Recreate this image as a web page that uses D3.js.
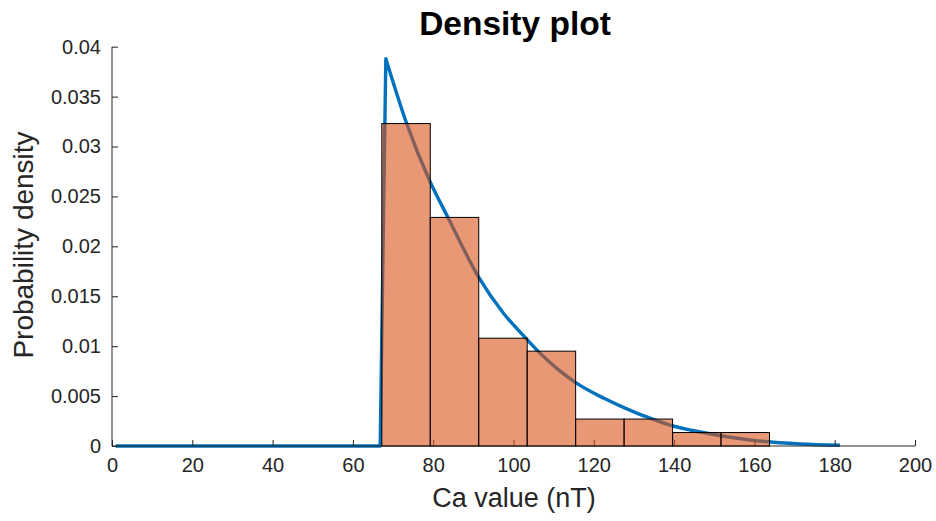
<!DOCTYPE html>
<html><head><meta charset="utf-8">
<script src="https://cdn.jsdelivr.net/npm/d3@7"></script>
<style>body{margin:0;background:#fff}svg{display:block}text{font-family:"Liberation Sans",Arial,Helvetica,sans-serif;fill:#262626}</style>
</head><body><div id="chart"></div>
<script>
// Histogram bins (Ca value, nT)
const binStart = 67.2;
const binWidth = 12.07;
const binDensity = [0.0323, 0.0229, 0.0108, 0.0095, 0.0027, 0.0027, 0.00135, 0.00135];
// Fitted density curve
const curveX = [0.9, 66.8, 68.2, 73.4, 79.2, 83.8, 91.2, 97.5, 103.3, 106.6, 111.0, 115.3, 122.4, 130.7, 134.0, 139.0, 146.5, 158.9, 171.4, 181.3];
const curveY = [0, 0, 0.0388, 0.0323, 0.0265, 0.0228, 0.0170, 0.0133, 0.0107, 0.0093, 0.0077, 0.0064, 0.0048, 0.0033, 0.0028, 0.0021, 0.0014, 0.0006, 0.0002, 0.00007];
const xTicks = [0, 20, 40, 60, 80, 100, 120, 140, 160, 180, 200];
const yTicks = [0, 0.005, 0.01, 0.015, 0.02, 0.025, 0.03, 0.035, 0.04];
const yTickLabels = ["0", "0.005", "0.01", "0.015", "0.02", "0.025", "0.03", "0.035", "0.04"];

const W = 936, H = 521;
const svg = d3.select("#chart").append("svg").attr("width", W).attr("height", H);
const x = d3.scaleLinear().domain([0, 200]).range([112, 915]);
const y = d3.scaleLinear().domain([0, 0.04]).range([446, 46.7]);
const axisColor = "#262626";

// curve (behind bars): sharp rise drawn linear, decay drawn smooth
const pts = curveX.map((d, i) => [d, curveY[i]]);
const peak = 2;
const lineLin = d3.line().x(d => x(d[0])).y(d => y(d[1]));
const lineSmooth = d3.line().x(d => x(d[0])).y(d => y(d[1])).curve(d3.curveMonotoneX);
const dPath = lineLin(pts.slice(0, peak + 1)) + lineSmooth(pts.slice(peak)).replace(/^M[^A-Za-z]*/, "");
svg.append("path")
  .attr("fill", "none").attr("stroke", "#0072BD").attr("stroke-width", 3.4)
  .attr("stroke-linejoin", "round")
  .attr("d", dPath);

// axes
const xAxis = d3.axisBottom(x).tickValues(xTicks).tickSize(-6).tickPadding(12).tickFormat(d3.format("d"));
const gx = svg.append("g").attr("transform", `translate(0,${y(0)})`).call(xAxis);
const yAxis = d3.axisLeft(y).tickValues(yTicks).tickSize(-6).tickPadding(11).tickFormat((d, i) => yTickLabels[i]);
const gy = svg.append("g").attr("transform", `translate(${x(0)},0)`).call(yAxis);
[gx, gy].forEach(g => {
  g.select(".domain").attr("stroke", axisColor).attr("stroke-width", 1);
  g.selectAll(".tick line").attr("stroke", axisColor);
  g.selectAll(".tick text").attr("font-size", 20).attr("fill", axisColor)
    .style("font-family", '"Liberation Sans",Arial,sans-serif');
});
gx.select(".domain").attr("d", `M${x(0)},0H${x(200)}`);
gy.select(".domain").attr("d", `M0,${y(0)}V${y(0.04)}`);

// bars on top, semi-transparent
const bins = binDensity.map((v, i) => ({x0: binStart + i * binWidth, x1: binStart + (i + 1) * binWidth, v}));
svg.append("g").selectAll("rect").data(bins).join("rect")
  .attr("x", d => x(d.x0)).attr("width", d => x(d.x1) - x(d.x0))
  .attr("y", d => y(d.v)).attr("height", d => y(0) - y(d.v))
  .attr("fill", "rgb(217,83,25)").attr("fill-opacity", 0.6)
  .attr("stroke", "#000").attr("stroke-width", 1);

// labels
svg.append("text").attr("x", 515).attr("y", 35).attr("text-anchor", "middle")
  .attr("font-size", 33.5).attr("font-weight", "bold").style("fill", "#000").text("Density plot");
svg.append("text").attr("x", 514).attr("y", 507).attr("text-anchor", "middle")
  .attr("font-size", 27).text("Ca value (nT)");
svg.append("text").attr("transform", "translate(33,245) rotate(-90)").attr("text-anchor", "middle")
  .attr("font-size", 28).text("Probability density");
</script></body></html>
